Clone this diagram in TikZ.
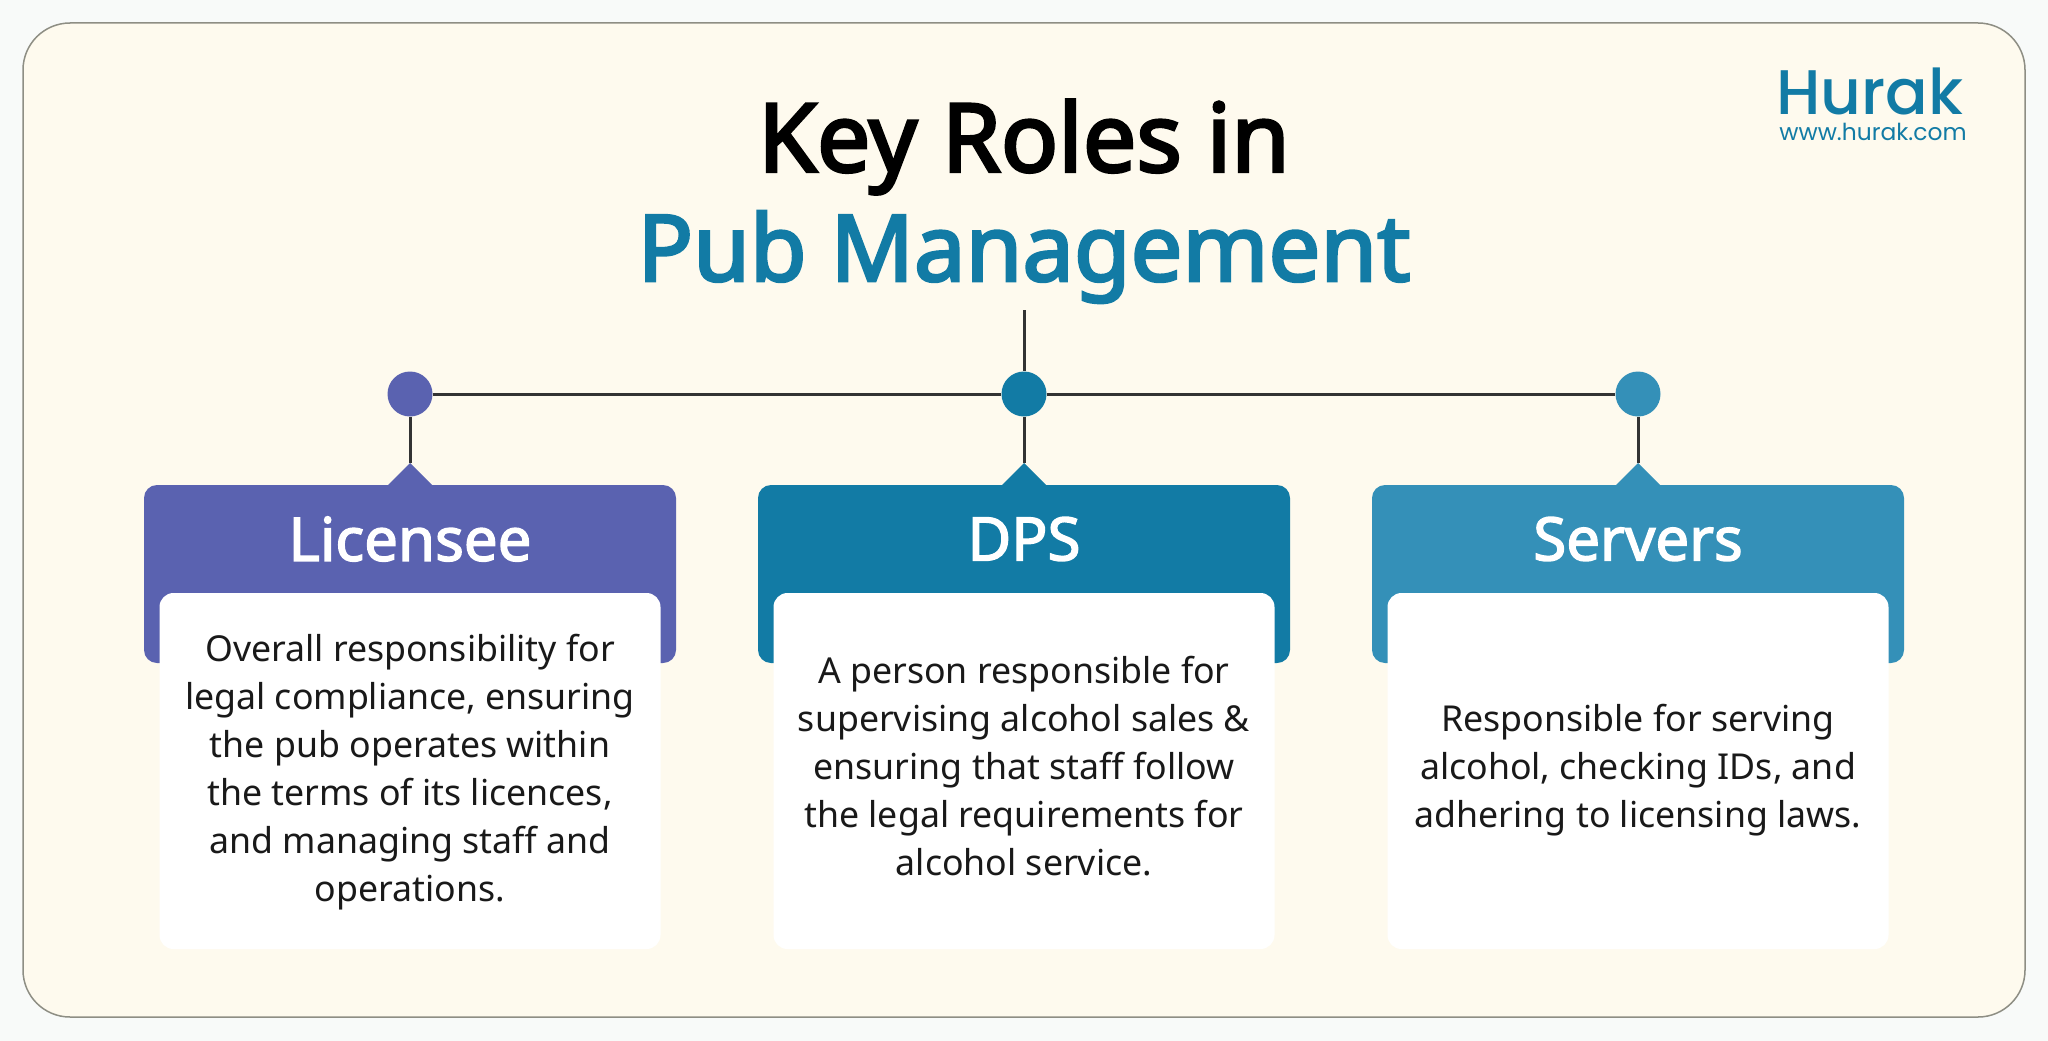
\documentclass[tikz,border=0pt]{standalone}
\usepackage{fontspec}
\setmainfont{Noto Sans}
\newfontfamily\logofont{Poppins}[BoldFont={Poppins Medium}]
\newfontfamily\titlefont{Noto Sans}[FakeBold=3]
\newfontfamily\namefont{Noto Sans}[FakeBold=2.4]
\usetikzlibrary{positioning}
\definecolor{pagebg}{HTML}{F8FAF9}
\definecolor{panelbg}{HTML}{FEFAEE}
\definecolor{panelline}{HTML}{8E8E84}
\definecolor{wire}{HTML}{333333}
\definecolor{violet}{HTML}{5A62B0}
\definecolor{teal}{HTML}{127BA5}
\definecolor{sky}{HTML}{3490B8}
\tikzset{
  dot/.style={circle,inner sep=0pt,minimum size=45pt},
  head/.style={rounded corners=13pt,inner sep=0pt,minimum width=532pt,minimum height=178pt},
  card/.style={fill=white,rounded corners=14pt,inner sep=0pt,minimum width=501pt,minimum height=356pt},
  cardtext/.style={align=center,text=black!90,font=\fontsize{35.7}{48}\selectfont},
  headtext/.style={text=white,font=\namefont\fontsize{60}{66}\selectfont},
  wireline/.style={draw=wire,line width=3pt}
}
\begin{document}
\begin{tikzpicture}[x=1pt,y=-1pt]
\fill[pagebg] (0,0) rectangle (2048,1041);
\draw[fill=panelbg,draw=panelline,line width=1.5pt,rounded corners=47pt] (23,23) rectangle (2025,1017);

\draw (1024,147) node (keyroles) {\titlefont\fontsize{95}{100}\selectfont Key Roles in};
\draw (1024,257) node (pubmgmt) {\titlefont\fontsize{92}{100}\selectfont\color{teal} Pub Management};

\draw (1870,91) node[inner sep=0pt] (hurak) {\logofont\fontsize{63}{70}\selectfont\bfseries\color{teal} Hurak};
\draw (1873,132) node[inner sep=0pt] (hurakweb) {\logofont\fontsize{23.4}{30}\selectfont\color{teal} www.hurak.com};

\coordinate (stem) at (1024,310);
\draw (410,394) node[dot,fill=violet] (dotlic) {};
\draw (1024,394) node[dot,fill=teal] (dotdps) {};
\draw (1638,394) node[dot,fill=sky] (dotser) {};

% headers with their little peaks
\draw (410,574) node[head,fill=violet] (headlic) {};
\draw (1024,574) node[head,fill=teal] (headdps) {};
\draw (1638,574) node[head,fill=sky] (headser) {};
\coordinate (peaklic) at (410,463);
\coordinate (peakdps) at (1024,463);
\coordinate (peakser) at (1638,463);
\fill[violet] (peaklic) -- ++(23,23) -- ++(-46,0) -- cycle;
\fill[teal] (peakdps) -- ++(23,23) -- ++(-46,0) -- cycle;
\fill[sky] (peakser) -- ++(23,23) -- ++(-46,0) -- cycle;

\draw (410,539) node[headtext] (namelic) {Licensee};
\draw (1024,539) node[headtext] (namedps) {DPS};
\draw (1638,539) node[headtext] (nameser) {Servers};

\draw (410,771) node[card] (cardlic) {};
\draw (1024,771) node[card] (carddps) {};
\draw (1638,771) node[card] (cardser) {};

\draw (410,772) node[cardtext] (textlic) {Overall responsibility for\\legal compliance, ensuring\\the pub operates within\\the terms of its licences,\\and managing staff and\\operations.};
\draw (1024,766) node[cardtext] (textdps) {A person responsible for\\supervising alcohol sales \&\\ensuring that staff follow\\the legal requirements for\\alcohol service.};
\draw (1638,770) node[cardtext] (textser) {Responsible for serving\\alcohol, checking IDs, and\\adhering to licensing laws.};

\draw[wireline]
     (stem) to (dotdps)
     (dotlic) to (dotdps)
     (dotdps) to (dotser)

     (dotlic) to (peaklic)
     (dotdps) to (peakdps)
     (dotser) to (peakser) ;
\end{tikzpicture}
\end{document}
